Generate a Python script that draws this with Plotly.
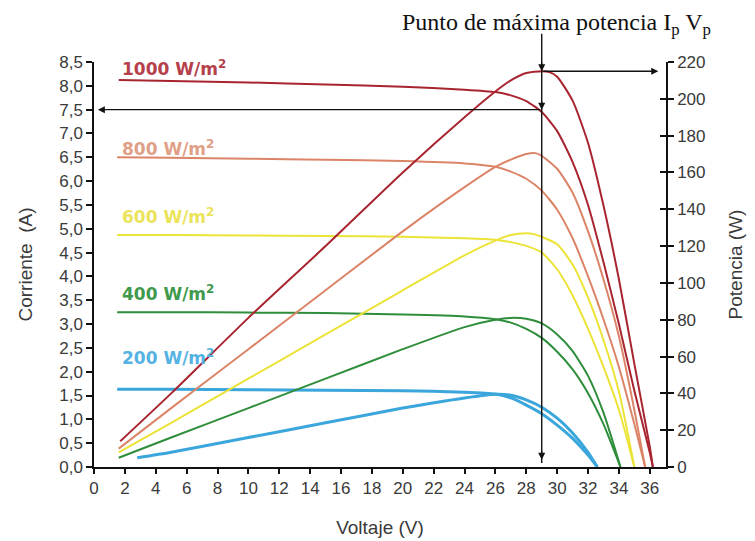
import plotly.graph_objects as go

# ---------------- data ----------------
x_ticks = list(range(0, 37, 2))
y_ticks = [0, 0.5, 1, 1.5, 2, 2.5, 3, 3.5, 4, 4.5, 5, 5.5, 6, 6.5, 7, 7.5, 8, 8.5]
y_ticklabels = ["0,0", "0,5", "1,0", "1,5", "2,0", "2,5", "3,0", "3,5", "4,0", "4,5",
                "5,0", "5,5", "6,0", "6,5", "7,0", "7,5", "8,0", "8,5"]
y2_ticks = list(range(0, 221, 20))

# I-V curves (Voltaje V, Corriente A)
v_iv_1000 = [1.6, 5, 10, 15, 20, 24, 26, 27, 28, 29, 30, 31, 32, 33, 34, 35, 36, 36.2]
i_iv_1000 = [8.12, 8.1, 8.07, 8.03, 7.98, 7.92, 7.87, 7.8, 7.68, 7.45, 7.05, 6.4, 5.5, 4.3, 3.0, 1.6, 0.3, 0]
v_iv_800 = [1.5, 5, 10, 15, 20, 24, 26, 27, 28, 29, 30, 31, 32, 33, 34, 35, 35.7]
i_iv_800 = [6.5, 6.49, 6.47, 6.45, 6.42, 6.37, 6.3, 6.2, 6.05, 5.8, 5.4, 4.8, 4.0, 3.1, 2.1, 0.9, 0]
v_iv_600 = [1.5, 5, 10, 15, 20, 24, 26, 27, 28, 29, 30, 31, 32, 33, 34, 35]
i_iv_600 = [4.87, 4.87, 4.86, 4.85, 4.83, 4.8, 4.77, 4.72, 4.64, 4.5, 4.15, 3.6, 2.9, 2.1, 1.2, 0]
v_iv_400 = [1.5, 5, 10, 15, 20, 24, 26, 27, 28, 29, 30, 31, 32, 33, 34.1]
i_iv_400 = [3.25, 3.25, 3.24, 3.23, 3.2, 3.16, 3.1, 3.03, 2.9, 2.71, 2.42, 2.05, 1.55, 0.9, 0]
v_iv_200 = [1.5, 5, 10, 15, 20, 24, 26, 27, 28, 29, 30, 31, 32, 32.6]
i_iv_200 = [1.63, 1.63, 1.62, 1.61, 1.6, 1.57, 1.53, 1.45, 1.3, 1.12, 0.88, 0.6, 0.25, 0]

# Power curves (Voltaje V, Potencia W)
v_p_1000 = [1.7, 5, 10, 15, 20, 24, 26, 27, 28, 29, 29.5, 30, 31, 32, 33, 34, 35, 36, 36.2]
p_p_1000 = [14, 40, 81, 120, 160, 190, 204, 210, 214, 215, 214.5, 212, 199, 176, 142, 102, 56, 11, 0]
v_p_800 = [1.6, 5, 10, 15, 20, 24, 26, 27, 28, 28.6, 29, 30, 31, 32, 33, 34, 35, 35.7]
p_p_800 = [10, 32, 64, 96, 128, 152, 163, 167, 170, 170.5, 169, 162, 149, 128, 102, 71, 31, 0]
v_p_600 = [1.6, 5, 10, 15, 20, 24, 26, 27, 28, 28.5, 29, 30, 31, 32, 33, 34, 35]
p_p_600 = [8, 24, 48, 72, 96, 115, 123, 126, 127, 126.5, 125, 121, 110, 92, 69, 41, 0]
v_p_400 = [1.6, 5, 10, 15, 20, 24, 26, 27, 28, 29, 30, 31, 32, 33, 34.1]
p_p_400 = [5, 16, 32, 48, 64, 76, 80, 81, 80.5, 78, 72, 63, 49.5, 29.5, 0]
v_p_200 = [2.8, 5, 10, 15, 20, 24, 26, 27, 28, 29, 30, 31, 32, 32.6]
p_p_200 = [5, 8, 16, 24, 32, 37.5, 39.5, 39, 36.5, 32.5, 26.5, 18.5, 8, 0]

labels = ["1000 W/m<sup>2</sup>", "800 W/m<sup>2</sup>", "600 W/m<sup>2</sup>",
          "400 W/m<sup>2</sup>", "200 W/m<sup>2</sup>"]
label_y = [8.37, 6.7, 5.27, 3.65, 2.3]
colors = ["#a82530", "#dc8468", "#ece337", "#2f8e3c", "#3aa6dc"]
label_colors = ["#b5404a", "#e0a088", "#ebe35a", "#3f9a4c", "#55b2e2"]

v_mp = 29.0       # voltage at max power
i_mp = 7.5        # current at max power
p_mp = 215        # max power

iv_sets = [(v_iv_1000, i_iv_1000), (v_iv_800, i_iv_800), (v_iv_600, i_iv_600),
           (v_iv_400, i_iv_400), (v_iv_200, i_iv_200)]
p_sets = [(v_p_1000, p_p_1000), (v_p_800, p_p_800), (v_p_600, p_p_600),
          (v_p_400, p_p_400), (v_p_200, p_p_200)]

fig = go.Figure()
for k in range(5):
    vi, ii = iv_sets[k]
    vp, pp = p_sets[k]
    w = 3 if k == 4 else 2
    fig.add_trace(go.Scatter(x=vi, y=ii, mode="lines", line=dict(color=colors[k], width=w, shape="spline", smoothing=0.6),
                             showlegend=False, hoverinfo="skip", yaxis="y"))
    fig.add_trace(go.Scatter(x=vp, y=pp, mode="lines", line=dict(color=colors[k], width=w, shape="spline", smoothing=0.6),
                             showlegend=False, hoverinfo="skip", yaxis="y2"))
# invisible trace to create the crossing-tick overlay axis
fig.add_trace(go.Scatter(x=[0], y=[0], yaxis="y3", mode="markers", marker=dict(opacity=0, size=1),
                         showlegend=False, hoverinfo="skip"))

tick_font = dict(family="Liberation Sans, Arial, sans-serif", size=17, color="#3a3a3a")
title_font = dict(family="Liberation Sans, Arial, sans-serif", size=19, color="#3a3a3a")

annotations = []
for k in range(5):
    annotations.append(dict(x=1.7, y=label_y[k], xref="x", yref="y", text=labels[k],
                            showarrow=False, xanchor="left", yanchor="middle",
                            font=dict(family="DejaVu Sans, Verdana, sans-serif", size=17,
                                      color=label_colors[k], weight="bold")))

annotations.append(dict(x=0.809, y=1.093, xref="paper", yref="paper",
                        text="Punto de máxima potencia I<sub>p</sub> V<sub>p</sub>",
                        showarrow=False, xanchor="center", yanchor="middle",
                        font=dict(family="Liberation Serif, Times New Roman, serif", size=24, color="#111111")))

arrow_common = dict(showarrow=True, arrowhead=2, arrowsize=1, arrowwidth=1.4, arrowcolor="#111111", text="")
# arrowheads on the vertical line
annotations.append(dict(x=v_mp, y=p_mp, xref="x", yref="y2", ax=0, ay=-10, **arrow_common))
annotations.append(dict(x=v_mp, y=i_mp, xref="x", yref="y", ax=0, ay=-10, **arrow_common))
annotations.append(dict(x=v_mp, y=0.15, xref="x", yref="y", ax=0, ay=-10, **arrow_common))
# horizontal arrows
annotations.append(dict(x=36.55, y=p_mp, xref="x", yref="y2", ax=v_mp, ay=p_mp, axref="x", ayref="y2", **arrow_common))
annotations.append(dict(x=0.25, y=i_mp, xref="x", yref="y", ax=v_mp, ay=i_mp, axref="x", ayref="y", **arrow_common))

shapes = [dict(type="line", xref="x", yref="paper", x0=v_mp, x1=v_mp, y0=0.01, y1=1.07,
               line=dict(color="#111111", width=1.4))]

fig.update_layout(
    width=747, height=533,
    margin=dict(l=86, r=89, t=54, b=74),
    plot_bgcolor="white", paper_bgcolor="white",
    xaxis=dict(range=[0, 37.05], tickvals=x_ticks, ticktext=[str(t) for t in x_ticks],
               showgrid=False, zeroline=False, showline=True, linecolor="#111111", linewidth=1.5,
               ticks="outside", ticklen=5, tickwidth=1.5, tickcolor="#111111", tickfont=tick_font,
               automargin=False,
               title=dict(text="Voltaje (V)", font=title_font, standoff=24)),
    yaxis=dict(range=[0, 8.5], tickvals=y_ticks, ticktext=y_ticklabels,
               showgrid=False, zeroline=False, showline=True, linecolor="#111111", linewidth=1.5,
               ticks="outside", ticklen=6, tickwidth=1.5, tickcolor="#111111", tickfont=tick_font,
               automargin=False,
               title=dict(text="Corriente  (A)", font=title_font, standoff=22)),
    yaxis2=dict(range=[0, 220], overlaying="y", side="right", anchor="x", tickvals=y2_ticks,
                showgrid=False, zeroline=False, showline=True, linecolor="#111111", linewidth=1.5,
                ticks="outside", ticklen=6, tickwidth=1.5, tickcolor="#111111", tickfont=tick_font,
                automargin=False,
                title=dict(text="Potencia (W)", font=title_font, standoff=24)),
    yaxis3=dict(range=[0, 220], overlaying="y", side="right", anchor="x", tickvals=y2_ticks,
                showgrid=False, zeroline=False, showline=False, showticklabels=False,
                automargin=False,
                ticks="inside", ticklen=6, tickwidth=1.5, tickcolor="#111111"),
    annotations=annotations,
    shapes=shapes,
)

fig.write_html("out.html")
